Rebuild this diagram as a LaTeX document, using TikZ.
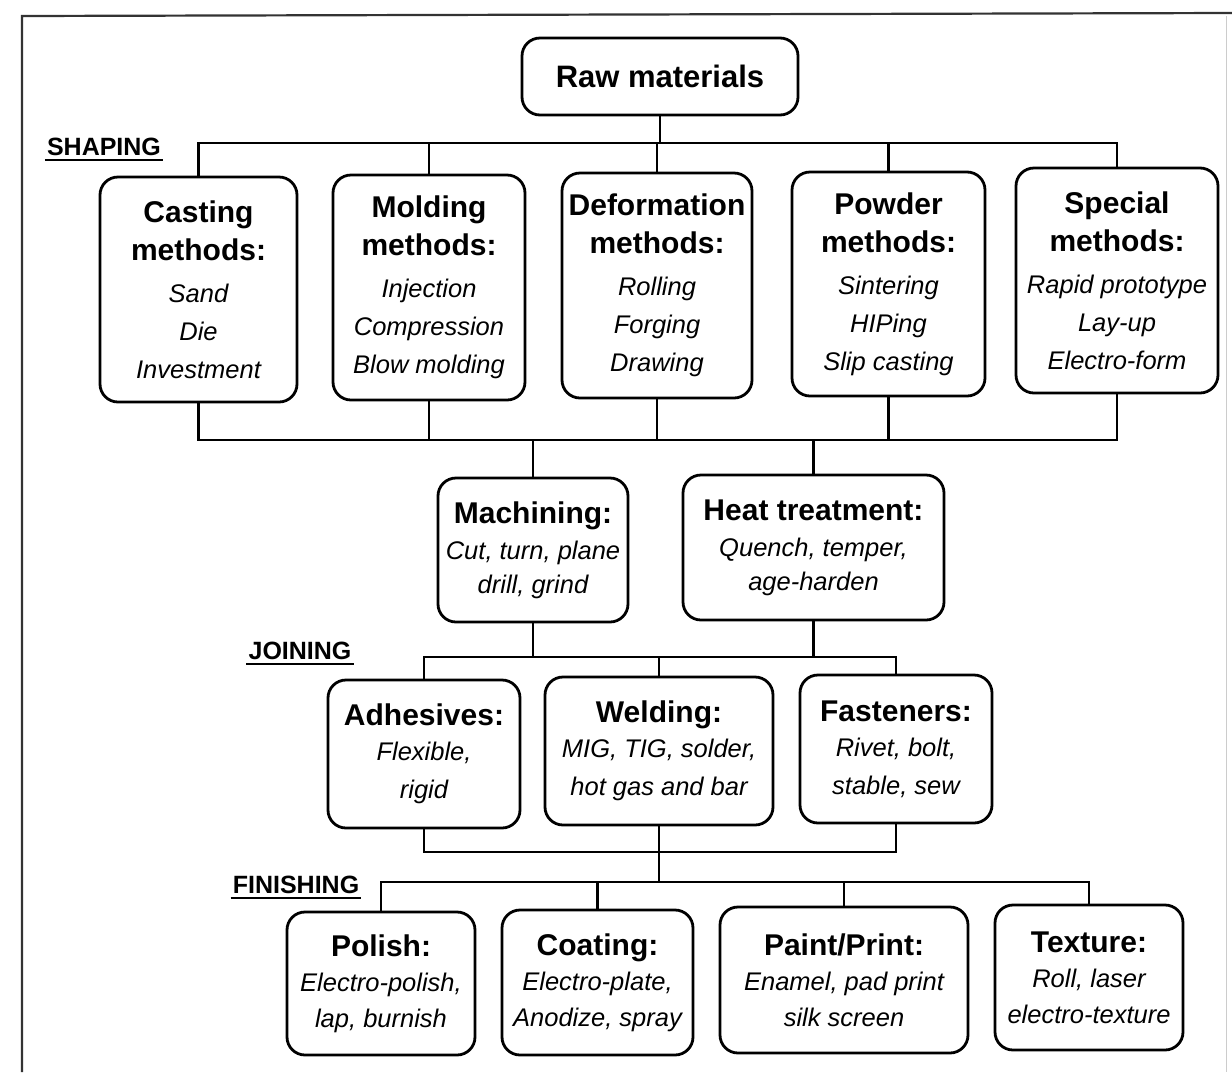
\documentclass[tikz,border=0pt]{standalone}
\usepackage{fontspec}
\setmainfont{Liberation Sans}
% heading and list lines of the process boxes
\newcommand\hd[1]{{\fontsize{30}{38}\selectfont\bfseries #1}}
\newcommand\ls[1]{{\fontsize{25.5}{38}\selectfont\itshape #1}}
\tikzset{
  procbox/.style={draw, line width=2.8pt, rounded corners=18pt, align=center, inner sep=0pt,
    font=\fontsize{25.5}{38}\selectfont},
  link/.style={line width=2.8pt, line cap=rect},
  phase/.style={font=\fontsize{25}{30}\selectfont\bfseries, inner sep=0pt, anchor=base},
  phaseline/.style={line width=2.4pt},
  frameline/.style={line width=2.2pt, black!80},
}
\begin{document}
\begin{tikzpicture}[x=1pt,y=-1pt]
\useasboundingbox (0,0) rectangle (1232,1072);
% page frame
\draw[frameline] (22,1072) -- (22,16) -- (1232,13);
\draw[line width=1pt, black!20] (1226,16) -- (1226,1072);

% top
\node[procbox, minimum width=276pt, minimum height=77pt] (raw) at (660,76.5)
  {{\fontsize{31}{39}\selectfont\bfseries Raw materials}};

% shaping
\node[procbox, minimum width=197pt, minimum height=225pt] (cast) at (198.5,289.5)
  {\hd{Casting}\\\hd{methods:}\\[4pt]\ls{Sand}\\\ls{Die}\\\ls{Investment}};
\node[procbox, minimum width=192pt, minimum height=225pt] (mold) at (429,287.5)
  {\hd{Molding}\\\hd{methods:}\\[4pt]\ls{Injection}\\\ls{Compression}\\\ls{Blow molding}};
\node[procbox, minimum width=190pt, minimum height=225pt] (deform) at (657,285.5)
  {\hd{Deformation}\\\hd{methods:}\\[4pt]\ls{Rolling}\\\ls{Forging}\\\ls{Drawing}};
\node[procbox, minimum width=193pt, minimum height=224pt] (powder) at (888.5,284)
  {\hd{Powder}\\\hd{methods:}\\[4pt]\ls{Sintering}\\\ls{HIPing}\\\ls{Slip casting}};
\node[procbox, minimum width=202pt, minimum height=225pt] (spec) at (1117,280.5)
  {\hd{Special}\\\hd{methods:}\\[4pt]\ls{Rapid prototype}\\\ls{Lay-up}\\\ls{Electro-form}};

% machining and heat treatment
\node[procbox, minimum width=190pt, minimum height=144pt] (mach) at (533,550)
  {\hd{Machining:}\\[-2pt]\ls{Cut, turn, plane}\\[-4pt]\ls{drill, grind}};
\node[procbox, minimum width=261pt, minimum height=145pt] (heat) at (813.5,547.5)
  {\hd{Heat treatment:}\\[-2pt]\ls{Quench, temper,}\\[-4pt]\ls{age-harden}};

% joining
\node[procbox, minimum width=192pt, minimum height=148pt] (adh) at (424,754)
  {\hd{Adhesives:}\\[-3pt]\ls{Flexible,}\\\ls{rigid}};
\node[procbox, minimum width=228pt, minimum height=148pt] (weld) at (659,751)
  {\hd{Welding:}\\[-3pt]\ls{MIG, TIG, solder,}\\\ls{hot gas and bar}};
\node[procbox, minimum width=192pt, minimum height=148pt] (fast) at (896,749)
  {\hd{Fasteners:}\\[-3pt]\ls{Rivet, bolt,}\\\ls{stable, sew}};

% finishing
\node[procbox, minimum width=188pt, minimum height=143pt] (pol) at (381,983.5)
  {\hd{Polish:}\\[-3pt]\ls{Electro-polish,}\\[-2pt]\ls{lap, burnish}};
\node[procbox, minimum width=191pt, minimum height=145pt] (coat) at (597.5,982.5)
  {\hd{Coating:}\\[-3pt]\ls{Electro-plate,}\\[-2pt]\ls{Anodize, spray}};
\node[procbox, minimum width=248pt, minimum height=146pt] (paint) at (844,980)
  {\hd{Paint/Print:}\\[-3pt]\ls{Enamel, pad print}\\[-2pt]\ls{silk screen}};
\node[procbox, minimum width=188pt, minimum height=145pt] (tex) at (1089,977.5)
  {\hd{Texture:}\\[-3pt]\ls{Roll, laser}\\[-2pt]\ls{electro-texture}};

% phase labels
\node[phase] (shp) at (104,155) {SHAPING};
\node[phase] (join) at (300,659) {JOINING};
\node[phase] (fin) at (296,893) {FINISHING};
\foreach \l in {shp,join,fin}
  \draw[phaseline] ([xshift=-2pt,yshift=-5pt]\l.base west) -- ([xshift=2pt,yshift=-5pt]\l.base east);

% bus levels
\coordinate (b1) at (0,143);
\coordinate (b2) at (0,440);
\coordinate (b3) at (0,657);
\coordinate (b4) at (0,852);
\coordinate (b5) at (0,882);

% raw materials to shaping
\draw[link] (raw.south) -- (raw.south |- b1);
\draw[link] (cast.north |- b1) -- (spec.north |- b1);
\foreach \n in {cast,mold,deform,powder,spec}
  \draw[link] (\n.north |- b1) -- (\n.north);

% shaping to machining and heat treatment
\foreach \n in {cast,mold,deform,powder,spec}
  \draw[link] (\n.south) -- (\n.south |- b2);
\draw[link] (cast.south |- b2) -- (spec.south |- b2);
\foreach \n in {mach,heat}
  \draw[link] (\n.north |- b2) -- (\n.north);

% to joining
\foreach \n in {mach,heat}
  \draw[link] (\n.south) -- (\n.south |- b3);
\draw[link] (adh.north |- b3) -- (fast.north |- b3);
\foreach \n in {adh,weld,fast}
  \draw[link] (\n.north |- b3) -- (\n.north);

% to finishing
\foreach \n in {adh,weld,fast}
  \draw[link] (\n.south) -- (\n.south |- b4);
\draw[link] (adh.south |- b4) -- (fast.south |- b4);
\draw[link] (weld.south |- b4) -- (weld.south |- b5);
\draw[link] (pol.north |- b5) -- (tex.north |- b5);
\foreach \n in {pol,coat,paint,tex}
  \draw[link] (\n.north |- b5) -- (\n.north);
\end{tikzpicture}
\end{document}
